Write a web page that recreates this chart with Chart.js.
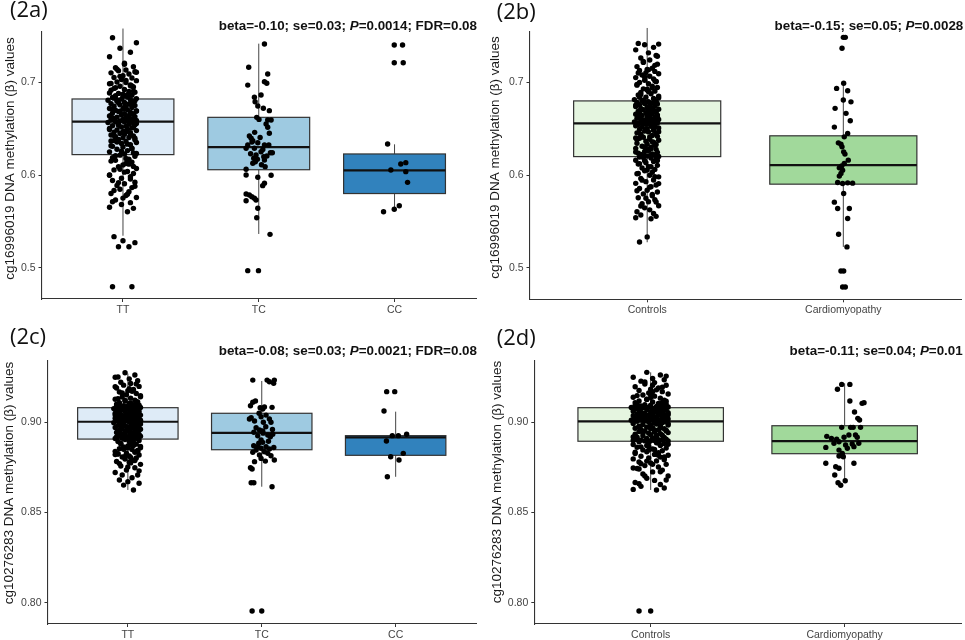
<!DOCTYPE html>
<html>
<head>
<meta charset="utf-8">
<script src="https://cdn.jsdelivr.net/npm/chart.js@4.4.1/dist/chart.umd.min.js"></script>
<style>
  body { margin: 0; background: #fff; }
  #wrap { position: relative; width: 965px; height: 640px; }
  .panel { position: absolute; height: 320px; }
</style>
</head>
<body>
<div id="wrap">
  <div class="panel" style="left:0;top:0;width:480px"><canvas id="p2a"></canvas></div>
  <div class="panel" style="left:480px;top:0;width:485px"><canvas id="p2b"></canvas></div>
  <div class="panel" style="left:0;top:320px;width:480px"><canvas id="p2c"></canvas></div>
  <div class="panel" style="left:480px;top:320px;width:485px"><canvas id="p2d"></canvas></div>
</div>
<script>
// categories
var genotypes = ['TT', 'TC', 'CC'];
var diseaseGroups = ['Controls', 'Cardiomyopathy'];

// box stats: [lower whisker, Q1, median, Q3, upper whisker]
var statsA = [[0.5345, 0.622, 0.6575, 0.682, 0.758], [0.5364, 0.6057, 0.630, 0.6622, 0.7417], [0.5633, 0.580, 0.605, 0.6227, 0.6331]];
var statsB = [[0.5277, 0.620, 0.6558, 0.680, 0.7586], [0.5227, 0.5903, 0.6108, 0.6424, 0.699]];
var statsC = [[0.8625, 0.8907, 0.9003, 0.9081, 0.927], [0.8643, 0.8848, 0.8941, 0.905, 0.9229], [0.8698, 0.8817, 0.8917, 0.8926, 0.9059]];
var statsD = [[0.8625, 0.8895, 0.9005, 0.9081, 0.9277], [0.8675, 0.8826, 0.8896, 0.8981, 0.9216]];

// jitter offsets (fraction of the jitter half width) shared by the large groups
var jitter = [0.3,-0.7,0.9,-0.2,0.5,-0.9,0.1,0.7,-0.5,0.2,-0.3,0.8,-0.8,0.4,0.0,-0.6,0.6,-0.1,0.9,-0.4,
  0.2,-0.9,0.5,-0.2,0.7,-0.6,0.1,-0.8,0.4,0.8,-0.3,0.0,0.6,-0.5,0.3,-0.7,0.9,-0.1,0.5,-1.0,
  -0.4,0.7,0.1,-0.8,0.4,-0.2,0.8,-0.6,0.2,0.6,-0.9,0.0,0.3,-0.5,0.9,-0.3,0.5,-0.7,0.1,0.7,
  -0.1,0.4,-0.9,0.8,-0.4,0.2,-0.6,0.6,0.0,-0.8,0.3,0.9,-0.2,0.5,-0.5,0.1,-1.0,0.7,-0.3,0.4,
  0.8,-0.7,0.2,-0.1,0.6,-0.9,0.3,-0.4,0.9,0.0,-0.6,0.5,-0.2,0.1,-0.8,0.7,-0.5,0.4,0.8,-0.3,
  -0.6,0.2,0.9,-0.1,0.5,-0.8,0.0,0.6,-0.4,0.3,-0.9,0.7,0.1,-0.2,0.8,-0.7,0.4,-0.5,0.6,0.2,
  0.0,-0.3,0.9,-0.6,0.3,0.7,-0.9,0.5,-0.1,-0.7,0.8,0.1,-0.4,0.6,-0.2,0.4,-0.8,0.2,0.9,-0.5,
  0.5,-0.1,-0.9,0.7,0.3,-0.6,0.0,0.8,-0.3,0.4,-0.7,0.6,0.1,-0.4,0.9,-0.2,0.2,-0.8,0.5,-0.5,
  0.7,-0.9,0.3,0.0,-0.6,0.8,-0.3,0.6,0.1,-0.7,
  -0.2,0.6,-0.8,0.4,0.1,-0.5,0.9,-0.3,0.7,-0.9,0.2,0.5,-0.6,0.0,0.8,-0.4,0.3,-0.7,0.6,-0.1,
  0.9,-0.5,0.2,-0.8,0.4,0.7,-0.2,0.1,-0.9,0.5,-0.3,0.8,-0.6,0.3,0.0,-0.7,0.6,-0.4,0.9,0.2,
  -0.8,0.4,-0.1,0.7,-0.5,0.1,0.8,-0.3,0.5,-0.9,0.3,-0.6,0.0,0.7,-0.2,0.9,-0.7,0.4,-0.4,0.6];

// (2a) cg16996019 by genotype
var aTT = [0.7593,0.7481,0.7427,0.7367,0.7324,0.7276,0.7205,0.7168,0.7158,0.7133,0.7125,0.7114,0.7102,0.7090,0.7071,0.7052,0.7046,0.7030,0.7018,0.7003,
  0.6997,0.6985,0.6972,0.6958,0.6950,0.6934,0.6922,0.6915,0.6901,0.6893,0.6880,0.6872,0.6861,0.6855,0.6842,0.6836,0.6824,
  0.6818,0.6812,0.6806,0.6795,0.6791,0.6783,0.6770,0.6766,0.6757,0.6749,0.6741,0.6736,0.6728,0.6717,0.6712,0.6703,0.6698,0.6690,0.6684,0.6676,
  0.6669,0.6661,0.6655,0.6648,0.6643,0.6637,0.6630,0.6624,0.6617,0.6611,0.6604,0.6600,0.6596,0.6591,0.6588,0.6583,0.6580,0.6577,
  0.6571,0.6566,0.6560,0.6553,0.6547,0.6541,0.6532,0.6525,0.6519,0.6508,0.6501,0.6494,0.6486,0.6479,0.6470,0.6463,0.6455,0.6448,0.6440,0.6431,
  0.6420,0.6412,0.6405,0.6396,0.6384,0.6371,0.6362,0.6350,0.6341,0.6327,0.6316,0.6302,0.6290,0.6277,0.6263,0.6250,0.6238,0.6226,
  0.6214,0.6201,0.6186,0.6170,0.6158,0.6139,0.6124,0.6108,0.6089,0.6070,0.6055,0.6037,0.6016,0.6001,0.5982,0.5965,0.5941,0.5923,0.5905,0.5887,
  0.5864,0.5846,0.5820,0.5801,0.5779,0.5758,0.5730,0.5702,0.5681,0.5652,0.5640,0.5604,0.5335,0.5291,0.5270,0.5226,0.5226,0.4795,0.4795,
  0.7195,0.7142,0.7108,0.7064,0.7021,0.6988,0.6962,0.6941,0.6905,0.6884,0.6866,0.6847,0.6829,0.6802,0.6779,0.6753,0.6731,0.6709,0.6688,0.6664,
  0.6642,0.6621,0.6599,0.6574,0.6556,0.6537,0.6514,0.6491,0.6466,0.6444,0.6426,0.6401,0.6379,0.6355,0.6333,0.6309,0.6284,0.6257,0.6232,0.6207,
  0.6178,0.6150,0.6117,0.6093,0.6062,0.6031,0.5998,0.5957,0.5918,0.5879,0.5833,0.5792,0.5751,0.5712,0.6960,0.6812,0.6690,0.6472,0.6368,0.6129];
var aTC = [0.7413,0.7162,0.709,0.7007,0.699,0.697,0.6863,0.6838,0.679,0.6744,0.672,0.6694,0.6622,0.660,0.6593,0.6593,0.655,0.6515,0.645,0.642,
  0.6396,0.6324,0.6288,0.637,0.6348,0.6324,0.6324,0.6288,0.6251,0.624,0.624,0.6216,0.618,0.6143,0.6126,0.6197,0.6162,0.609,0.6062,0.5975,
  0.5997,0.600,0.5911,0.5885,0.5795,0.5784,0.5766,0.5749,0.5723,0.573,0.5641,0.5539,0.536,0.4968,0.4968,0.6405,0.6355,0.6275,0.623,0.6205,
  0.617,0.611,0.646];
var aTCj = [0.42,-0.74,0.66,0.42,0.59,-0.81,0.17,-0.32,-0.27,-0.07,0.34,0.78,-0.15,0.02,0.66,0.91,0.54,0.66,0.78,-0.69,
  -0.56,-0.81,-0.93,-0.44,-0.07,0.42,0.74,-0.32,0.17,0.86,1.0,-0.2,-0.37,-0.25,-0.44,0.37,0.42,0.47,-0.93,-0.07,
  0.91,-0.93,0.42,0.29,-0.93,-0.69,-0.51,-0.32,-0.93,-0.2,-0.07,-0.15,0.83,-0.81,-0.02,0.1,-0.5,0.3,-0.6,0.6,
  -0.1,0.2,-0.3];
var aCC = [0.7402,0.7402,0.7211,0.7211,0.6334,0.6119,0.6133,0.6054,0.6036,0.5921,0.5604,0.563,0.5669];
var aCCj = [-0.02,0.59,-0.02,0.64,-0.51,0.46,0.83,-0.27,0.83,0.96,-0.81,-0.02,0.35];

// (2b) cg16996019 by disease status
var bCtrl = [0.7593,0.7420,0.7412,0.7405,0.7377,0.7350,0.7318,0.7290,0.7262,0.7241,0.7215,0.7196,0.7170,0.7152,0.7140,0.7127,0.7118,0.7105,0.7093,0.7080,
  0.7066,0.7051,0.7038,0.7022,0.7010,0.6998,0.6985,0.6970,0.6958,0.6945,0.6930,0.6918,0.6905,0.6890,0.6877,0.6863,0.6852,0.6839,0.6826,0.6814,0.6803,
  0.6797,0.6791,0.6784,0.6778,0.6772,0.6766,0.6760,0.6752,0.6746,0.6739,0.6731,0.6724,0.6718,0.6711,0.6705,0.6697,0.6690,0.6683,0.6677,0.6670,
  0.6663,0.6657,0.6650,0.6644,0.6637,0.6631,0.6624,0.6618,0.6612,0.6605,0.6599,0.6593,0.6588,0.6583,0.6578,0.6574,0.6570,0.6567,0.6564,0.6561,0.6559,
  0.6554,0.6548,0.6541,0.6533,0.6526,0.6518,0.6509,0.6500,0.6492,0.6483,0.6475,0.6466,0.6456,0.6447,0.6437,0.6428,0.6418,0.6408,0.6398,0.6387,
  0.6376,0.6366,0.6355,0.6344,0.6333,0.6322,0.6311,0.6300,0.6289,0.6278,0.6267,0.6256,0.6246,0.6237,0.6229,0.6222,0.6215,0.6210,0.6206,0.6203,0.6201,
  0.6195,0.6184,0.6172,0.6160,0.6147,0.6134,0.6120,0.6106,0.6091,0.6077,0.6062,0.6047,0.6031,0.6015,0.5999,0.5982,0.5965,0.5948,0.5930,0.5912,
  0.5894,0.5876,0.5857,0.5838,0.5818,0.5798,0.5778,0.5757,0.5736,0.5714,0.5692,0.5670,0.5648,0.5626,0.5605,0.5588,0.5570,0.5556,0.5541,0.5530,0.5335,0.5280,
  0.7281,0.7226,0.7183,0.7135,0.7101,0.7057,0.7016,0.6977,0.6939,0.6901,
  0.6869,0.6833,0.6808,0.6781,0.6755,0.6728,0.6701,0.6674,0.6648,0.6620,0.6596,0.6571,0.6545,0.6519,0.6494,0.6468,0.6441,0.6413,0.6385,0.6359,
  0.6331,0.6304,0.6276,0.6249,0.6221,0.6190,0.6158,0.6124,0.6090,0.6055,0.6019,0.5983,0.5946,0.5909,0.5871,0.5832,0.5793,0.5752,0.5711,0.5668,
  0.6712,0.6633,0.6560,0.6488,0.6400,0.6285,0.6840,0.6925,0.7010,0.6155];
var bCardio = [0.7485,0.7485,0.7367,0.699,0.6935,0.691,0.681,0.679,0.672,0.6666,0.6586,0.6518,0.645,0.6413,0.6348,0.6334,0.6305,0.6251,0.6227,0.6162,
  0.6126,0.610,0.6079,0.6054,0.6018,0.599,0.5921,0.591,0.5917,0.5914,0.5803,0.5709,0.5641,0.5641,0.5533,0.5364,0.5227,0.4968,0.4968,0.4795,0.4795];
var bCardioJ = [0,0.17,-0.11,0.03,-0.57,0.37,0,0.65,-0.7,0.23,0.59,-0.76,0.37,0.08,-0.42,-0.2,-0.11,0.03,0.14,0.42,
  0.08,-0.14,-0.34,-0.06,-0.2,-0.34,-0.48,-0.06,0.37,0.79,0.03,-0.76,-0.48,0.51,0.37,-0.4,0.31,-0.2,0.03,-0.06,0.17];

// (2c) cg10276283 by genotype
var cTT = [0.9388,0.9382,0.9377,0.9275,0.9262,0.9250,0.9241,0.9230,0.9222,0.9215,0.9206,0.9199,0.9190,0.9182,0.9175,0.9168,0.9160,0.9153,0.9147,0.9140,
  0.9134,0.9128,0.9123,0.9118,0.9113,0.9109,0.9105,0.9101,0.9098,0.9095,0.9092,0.9090,0.9088,0.9086,0.9084,0.9083,0.9082,
  0.9080,0.9078,0.9076,0.9074,0.9072,0.9069,0.9067,0.9065,0.9062,0.9060,0.9057,0.9055,0.9052,0.9050,0.9047,0.9045,0.9042,0.9040,0.9037,0.9035,
  0.9033,0.9031,0.9029,0.9027,0.9025,0.9023,0.9021,0.9019,0.9017,0.9015,0.9013,0.9011,0.9010,0.9008,0.9007,0.9006,0.9005,0.9004,
  0.9001,0.8998,0.8995,0.8992,0.8989,0.8986,0.8983,0.8980,0.8977,0.8974,0.8971,0.8968,0.8965,0.8962,0.8959,0.8956,0.8953,0.8950,0.8947,0.8944,
  0.8941,0.8938,0.8935,0.8932,0.8929,0.8927,0.8925,0.8923,0.8921,0.8919,0.8917,0.8915,0.8913,0.8912,0.8911,0.8910,0.8909,0.8908,
  0.8904,0.8899,0.8894,0.8889,0.8884,0.8879,0.8874,0.8869,0.8864,0.8859,0.8854,0.8849,0.8844,0.8839,0.8834,0.8829,0.8824,0.8819,0.8814,0.8808,
  0.8802,0.8796,0.8790,0.8783,0.8775,0.8767,0.8758,0.8748,0.8736,0.8722,0.8708,0.8693,0.8680,0.8671,0.8662,0.8652,0.8625,
  0.9251,0.9213,0.9186,0.9163,0.9142,0.9121,0.9107,0.9093,0.9079,0.9066,0.9053,0.9041,0.9030,0.9018,0.9008,0.8997,0.8986,0.8975,0.8963,0.8952,
  0.8940,0.8929,0.8918,0.8906,0.8893,0.8880,0.8866,0.8851,0.8836,0.8821,0.8805,0.8788,0.8771,0.8752,0.8731,0.8708,0.9172,0.9131,0.9087,0.9046,
  0.9012,0.8979,0.8945,0.8911,0.8872,0.8843,0.8811,0.8779,0.9197,0.9058,0.9002,0.8958,0.8924,0.8898,0.8858,0.8826,0.9115,0.9071,0.8990,0.8935];
var cTC = [0.9234,0.9234,0.9225,0.9234,0.9216,0.9083,0.9111,0.9092,0.9118,0.9081,0.9074,0.9085,0.9026,0.9018,0.9007,0.9031,0.904,0.900,0.9018,0.900,
  0.897,0.8957,0.8945,0.8952,0.893,0.892,0.8934,0.8902,0.8889,0.8884,0.8865,0.8856,0.8865,0.8852,0.8846,0.8837,0.8834,0.8819,0.8828,0.8815,
  0.880,0.8782,0.8785,0.8791,0.8741,0.8748,0.8665,0.8665,0.8643,0.7954,0.7954,0.8975,0.8925,0.8895,0.8870,0.8960,0.9050,0.8940,0.8860];
var cTCj = [-0.67,0.4,0.57,0.94,0.89,0.77,-0.67,-0.84,-0.47,-0.12,0.07,0.2,-0.79,-0.92,-0.54,-0.05,0.32,0.12,0.57,0.69,
  -0.42,-0.17,-0.59,0.07,0.45,0.64,0.82,-0.05,0.07,-0.22,-0.3,-0.05,0.32,0.57,-0.42,0.2,-0.67,-0.17,0.45,0.69,
  -0.05,-0.54,0.27,0.94,-0.72,-0.84,-0.79,-0.59,0.77,-0.72,0,0.3,-0.3,0.5,-0.6,0.8,-0.2,0.1,0.9];
var cCC = [0.917,0.917,0.9063,0.8926,0.8926,0.8934,0.8896,0.8828,0.8809,0.8791,0.8698];
var cCCj = [-0.67,-0.07,-0.87,-0.25,0.2,0.82,-0.69,0.57,-0.37,0.25,-0.62];

// (2d) cg10276283 by disease status
var dCtrl = [0.9386,0.9382,0.9373,0.9277,0.9262,0.9250,0.9243,0.9236,0.9228,0.9220,0.9212,0.9205,0.9197,0.9190,0.9183,0.9176,0.9170,0.9163,0.9157,0.9151,
  0.9145,0.9139,0.9134,0.9128,0.9123,0.9118,0.9113,0.9109,0.9105,0.9101,0.9098,0.9095,0.9092,0.9090,0.9088,0.9086,0.9085,0.9084,0.9083,0.9082,0.9081,
  0.9079,0.9077,0.9075,0.9073,0.9071,0.9069,0.9067,0.9065,0.9063,0.9061,0.9059,0.9057,0.9055,0.9053,0.9051,0.9049,0.9047,0.9045,0.9043,0.9041,
  0.9039,0.9037,0.9035,0.9033,0.9031,0.9029,0.9027,0.9025,0.9023,0.9021,0.9019,0.9017,0.9015,0.9013,0.9012,0.9011,0.9010,0.9009,0.9008,0.9007,0.9006,
  0.9003,0.9000,0.8997,0.8994,0.8991,0.8988,0.8985,0.8982,0.8979,0.8976,0.8973,0.8970,0.8967,0.8964,0.8961,0.8958,0.8955,0.8952,0.8949,0.8946,
  0.8943,0.8940,0.8937,0.8934,0.8931,0.8928,0.8925,0.8922,0.8919,0.8916,0.8913,0.8910,0.8907,0.8905,0.8903,0.8901,0.8900,0.8899,0.8898,0.8897,0.8896,
  0.8892,0.8887,0.8882,0.8877,0.8872,0.8867,0.8862,0.8857,0.8852,0.8847,0.8842,0.8837,0.8832,0.8827,0.8822,0.8817,0.8812,0.8807,0.8802,0.8797,
  0.8792,0.8786,0.8780,0.8774,0.8767,0.8760,0.8752,0.8744,0.8735,0.8725,0.8714,0.8702,0.8690,0.8678,0.8666,0.8655,0.8645,0.8636,0.8628,0.8625,0.7954,0.7954,
  0.9256,0.9224,0.9195,0.9170,0.9148,0.9127,0.9110,0.9094,0.9079,0.9066,
  0.9054,0.9042,0.9031,0.9020,0.9009,0.8998,0.8987,0.8976,0.8964,0.8953,0.8941,0.8929,0.8917,0.8904,0.8891,0.8878,0.8864,0.8849,0.8834,0.8818,
  0.8802,0.8785,0.8767,0.8747,0.8726,0.8703,0.8680,0.8660,0.9180,0.9137,0.9099,0.9060,0.9026,0.8992,0.8958,0.8922,0.8885,0.8846,0.8808,0.8770,
  0.9205,0.9117,0.9037,0.8969,0.8899,0.8826,0.8741,0.9153,0.9004,0.8871];
var dCardio = [0.921,0.921,0.9183,0.9118,0.9105,0.9109,0.9057,0.9022,0.9013,0.8972,0.8972,0.8972,0.8972,0.8922,0.8911,0.8906,0.8917,0.893,0.893,0.8917,
  0.8861,0.8884,0.8892,0.8874,0.888,0.8884,0.8846,0.8828,0.8856,0.8865,0.8813,0.8809,0.8773,0.8754,0.8745,0.8773,0.8708,0.8665,0.8651,0.8676];
var dCardioJ = [-0.15,0.27,-0.37,0.27,0.9,1.0,0.51,0.68,0.77,0.31,-0.15,0.82,0.44,-0.92,-0.68,-0.41,-0.03,0.22,0.56,0.65,
  -0.97,-0.55,-0.29,0.05,0.39,0.73,-0.29,-0.12,0.14,0.48,-0.29,-0.07,-0.97,-0.46,-0.29,0.48,-0.51,-0.34,-0.2,0.03];

var blues = ['#deebf7', '#9ecae1', '#3182bd'];
var greens = ['#e5f5e0', '#a1d99b'];
var FONT = '"Liberation Sans", Arial, sans-serif';
var BOX_HALF = 0.375;

var panels = [
  { id: 'p2a', label: '(2a)', cats: genotypes, groups: [aTT, aTC, aCC], jit: [jitter, aTCj, aCCj], jw: [0.11, 0.1, 0.1],
    stats: statsA, fills: blues, yMin: 0.46624, yMax: 0.75426, yTicks: [0.5, 0.6, 0.7], dec: 1,
    pad: { left: 41.5, top: 32, right: 3, bottom: 1 }, xh: 20,
    yTitle: 'cg16996019 DNA methylation (\u03b2) values', titleX: 10, titleY: 158.5,
    note: ['beta=-0.10; se=0.03; ', 'P', '=0.0014; FDR=0.08'], noteRight: 477, noteY: 26, labelX: 10, labelY: 11 },
  { id: 'p2b', label: '(2b)', cats: diseaseGroups, groups: [bCtrl, bCardio], jit: [jitter, bCardioJ], jw: [0.065, 0.06],
    stats: statsB, fills: greens, yMin: 0.46624, yMax: 0.75426, yTicks: [0.5, 0.6, 0.7], dec: 1,
    pad: { left: 49.5, top: 32, right: 2, bottom: 0.7 }, xh: 20,
    yTitle: 'cg16996019 DNA methylation (\u03b2) values', titleX: 15, titleY: 157.5,
    note: ['beta=-0.15; se=0.05; ', 'P', '=0.0028'], noteRight: 483.3, noteY: 26.7, labelX: 16.7, labelY: 12.5 },
  { id: 'p2c', label: '(2c)', cats: genotypes, groups: [cTT, cTC, cCC], jit: [jitter, cTCj, cCCj], jw: [0.105, 0.1, 0.1],
    stats: statsC, fills: blues, yMin: 0.78819, yMax: 0.93415, yTicks: [0.80, 0.85, 0.90], dec: 2,
    pad: { left: 47.5, top: 40.7, right: 2.5, bottom: 0 }, xh: 16,
    yTitle: 'cg10276283 DNA methylation (\u03b2) values', titleX: 9.5, titleY: 163,
    note: ['beta=-0.08; se=0.03; ', 'P', '=0.0021; FDR=0.08'], noteRight: 477, noteY: 31, labelX: 10, labelY: 18 },
  { id: 'p2d', label: '(2d)', cats: diseaseGroups, groups: [dCtrl, dCardio], jit: [jitter, dCardioJ], jw: [0.1, 0.1],
    stats: statsD, fills: greens, yMin: 0.78819, yMax: 0.93415, yTicks: [0.80, 0.85, 0.90], dec: 2,
    pad: { left: 54.3, top: 40.7, right: 2, bottom: 0 }, xh: 16,
    yTitle: 'cg10276283 DNA methylation (\u03b2) values', titleX: 17.7, titleY: 162,
    note: ['beta=-0.11; se=0.04; ', 'P', '=0.01'], noteRight: 482.7, noteY: 31.7, labelX: 16.7, labelY: 19 }
];

function panelPlugin(p) {
  return {
    id: 'box_' + p.id,
    // boxes and whiskers go under the jittered points
    beforeDatasetsDraw: function (chart) {
      var ctx = chart.ctx, x = chart.scales.x, y = chart.scales.y;
      ctx.save();
      p.stats.forEach(function (s, i) {
        var cx = x.getPixelForValue(i + 1);
        var hw = x.getPixelForValue(i + 1 + BOX_HALF) - cx;
        var lo = y.getPixelForValue(s[0]), q1 = y.getPixelForValue(s[1]), med = y.getPixelForValue(s[2]),
            q3 = y.getPixelForValue(s[3]), hi = y.getPixelForValue(s[4]);
        ctx.strokeStyle = '#444';
        ctx.lineWidth = 1;
        ctx.beginPath();
        ctx.moveTo(cx, q3); ctx.lineTo(cx, hi);
        ctx.moveTo(cx, q1); ctx.lineTo(cx, lo);
        ctx.stroke();
        ctx.fillStyle = p.fills[i];
        ctx.fillRect(cx - hw, q3, 2 * hw, q1 - q3);
        ctx.strokeStyle = '#333';
        ctx.lineWidth = 1.2;
        ctx.strokeRect(cx - hw, q3, 2 * hw, q1 - q3);
        ctx.strokeStyle = '#111';
        ctx.lineWidth = 2.2;
        ctx.beginPath();
        ctx.moveTo(cx - hw, med); ctx.lineTo(cx + hw, med);
        ctx.stroke();
      });
      ctx.restore();
    },
    afterDraw: function (chart) {
      var ctx = chart.ctx;
      ctx.save();
      ctx.fillStyle = '#111';
      ctx.textBaseline = 'middle';
      ctx.textAlign = 'left';
      ctx.font = '22px "Open Sans", sans-serif';
      ctx.fillText(p.label, p.labelX, p.labelY);

      // statistics line, with italic P
      var fonts = ['bold 13.4px ' + FONT, 'bold italic 13.4px ' + FONT];
      var widths = p.note.map(function (t, k) { ctx.font = fonts[k % 2]; return ctx.measureText(t).width; });
      var xx = p.noteRight - widths.reduce(function (a, b) { return a + b; }, 0);
      p.note.forEach(function (t, k) {
        ctx.font = fonts[k % 2];
        ctx.fillText(t, xx, p.noteY);
        xx += widths[k];
      });

      ctx.translate(p.titleX, p.titleY);
      ctx.rotate(-Math.PI / 2);
      ctx.textAlign = 'center';
      ctx.fillStyle = '#1a1a1a';
      ctx.font = '13.5px ' + FONT;
      ctx.fillText(p.yTitle, 0, 0);
      ctx.restore();
    }
  };
}

panels.forEach(function (p) {
  var ctx = document.getElementById(p.id).getContext('2d');
  new Chart(ctx, {
    type: 'scatter',
    data: {
      datasets: p.groups.map(function (ys, i) {
        return {
          label: p.cats[i],
          data: ys.map(function (v, k) { return { x: i + 1 + (p.jit[i][k] || 0) * p.jw[i], y: v }; }),
          pointRadius: 2.7,
          pointBackgroundColor: '#000',
          pointBorderWidth: 0,
          clip: false
        };
      })
    },
    options: {
      responsive: true,
      maintainAspectRatio: false,
      animation: false,
      events: [],
      layout: { padding: { left: 0, top: p.pad.top, right: p.pad.right, bottom: p.pad.bottom } },
      plugins: { legend: { display: false }, tooltip: { enabled: false } },
      scales: {
        x: {
          type: 'linear',
          min: 0.4,
          max: p.cats.length + 0.6,
          afterBuildTicks: function (s) { s.ticks = p.cats.map(function (c, i) { return { value: i + 1 }; }); },
          afterFit: function (s) { s.height = p.xh; },
          ticks: {
            autoSkip: false, maxRotation: 0, padding: 2, color: '#444',
            font: { family: FONT, size: 10.5 },
            callback: function (v) { return p.cats[v - 1]; }
          },
          grid: { drawOnChartArea: false, tickLength: 3, color: '#333' },
          border: { color: '#333', width: 1.1 }
        },
        y: {
          min: p.yMin,
          max: p.yMax,
          afterBuildTicks: function (s) { s.ticks = p.yTicks.map(function (v) { return { value: v }; }); },
          afterFit: function (s) { s.width = p.pad.left; },
          ticks: {
            padding: 3, color: '#444',
            font: { family: FONT, size: 10.5 },
            callback: function (v) { return v.toFixed(p.dec); }
          },
          grid: { drawOnChartArea: false, tickLength: 3, color: '#333' },
          border: { color: '#333', width: 1.1 }
        }
      }
    },
    plugins: [panelPlugin(p)]
  });
});
</script>
</body>
</html>
